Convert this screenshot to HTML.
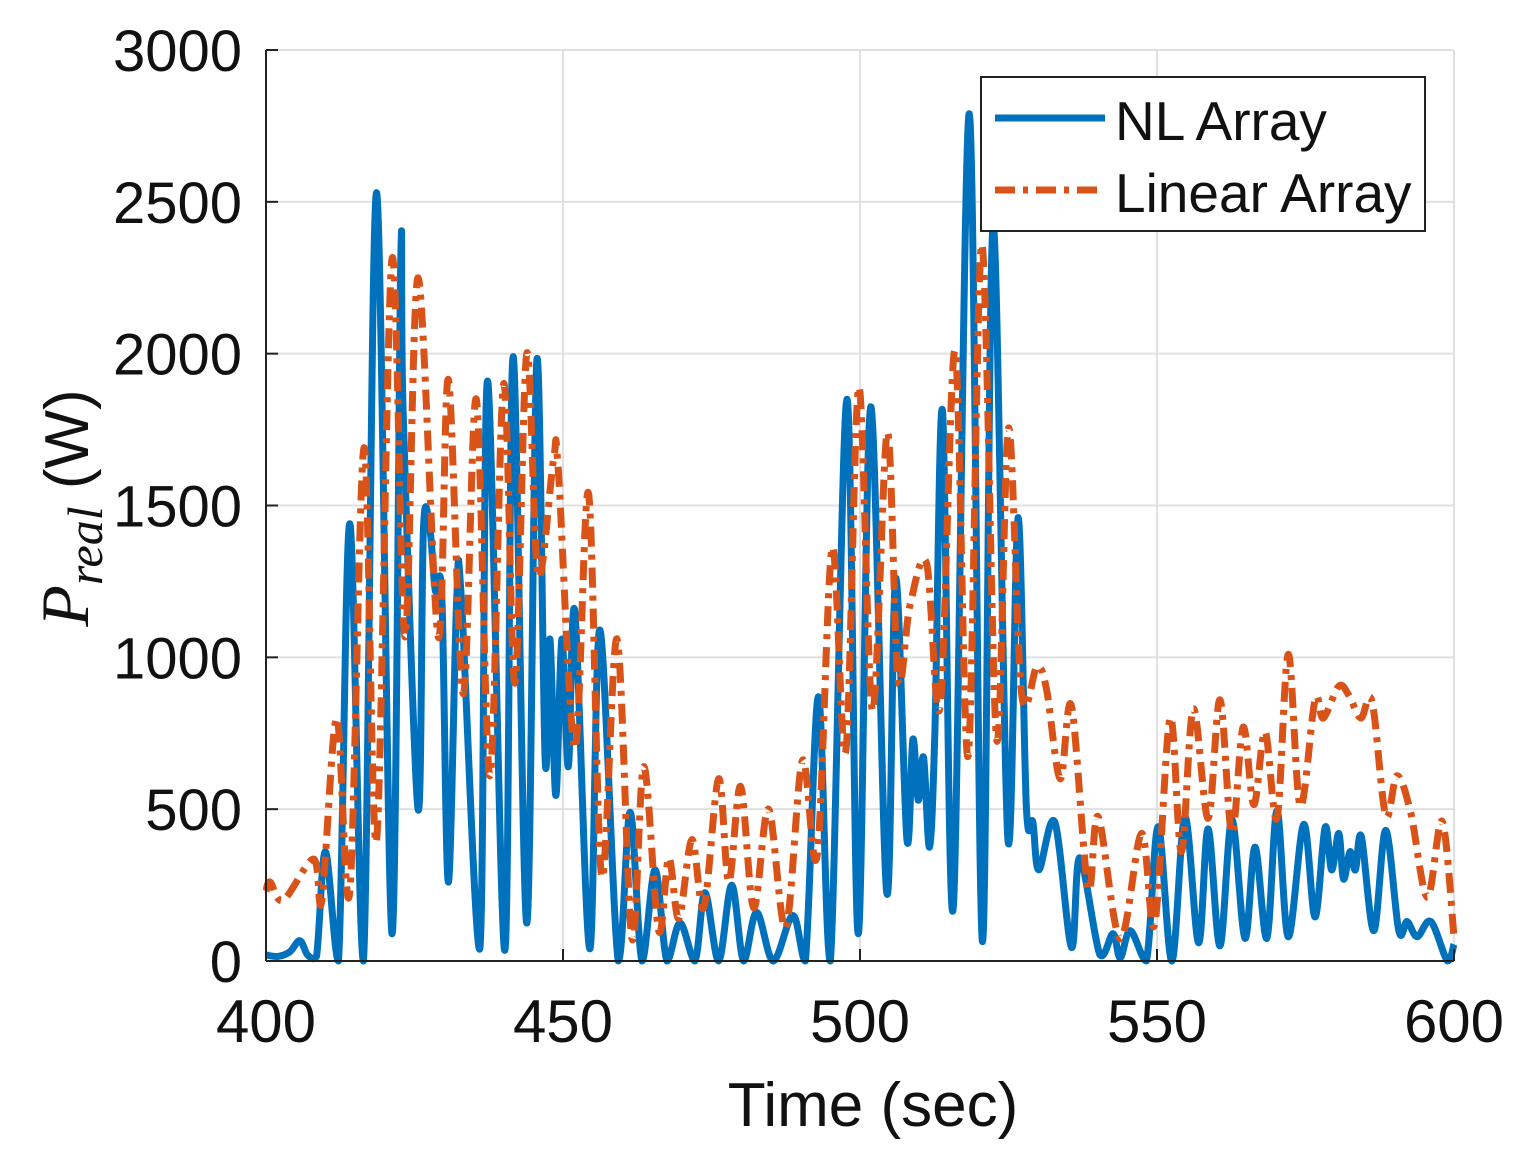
<!DOCTYPE html>
<html><head><meta charset="utf-8"><style>
body{margin:0;background:#fff;}
svg{display:block;font-family:"Liberation Sans",sans-serif;}
</style></head><body>
<svg id="chart" width="1526" height="1162" viewBox="0 0 1526 1162" xmlns="http://www.w3.org/2000/svg">
<g id="grid"></g>
<g id="series"></g>
<g id="axes"></g>
<text x="873" y="1126" font-size="62" text-anchor="middle" fill="#111">Time (sec)</text>
<g transform="translate(88,508) rotate(-90)">
<text text-anchor="middle" font-size="62" fill="#111"><tspan font-family="Liberation Serif,serif" font-style="italic" font-size="68">P</tspan><tspan font-family="Liberation Serif,serif" font-style="italic" font-size="50" dy="14">real</tspan><tspan dy="-14">  (W)</tspan></text>
</g>
<g>
<rect x="981" y="77" width="444" height="154" fill="#fff" stroke="#222" stroke-width="2"/>
<line x1="995" y1="118" x2="1105" y2="118" stroke="#0072BD" stroke-width="7"/>
<text x="1115" y="140" font-size="55" fill="#111">NL Array</text>
<line x1="995" y1="190" x2="1105" y2="190" stroke="#D95319" stroke-width="7" stroke-dasharray="20 8 5 8"/>
<text x="1115" y="212" font-size="55" fill="#111">Linear Array</text>
</g>
</svg>
<script>
const xTicks=[400,450,500,550,600];
const yTicks=[0,500,1000,1500,2000,2500,3000];
const nlT=[400,402,404,405.7,407,408.5,410,412.2,414.1,416.4,418.6,421.2,422.7,423.1,425.6,426.5,427.6,428.5,429.6,430.7,432.1,432.9,436,437.3,440.2,441.6,443.9,445.6,447,447.8,448.8,449.8,450.9,452,454.5,456.2,459.3,461.3,463.3,465.5,467.5,469.7,472.2,473.9,476.2,478.4,480.4,482.6,485.4,488.7,490.8,493,495,497.8,499.7,501.8,504.5,506,507.9,508.9,509.8,510.7,511.7,512.6,513.9,515.7,518.4,520.6,522.4,524.9,526.6,528,529.1,530.1,532.8,535.6,537,540.4,542.6,543.8,545.5,548.2,550.2,552.5,554.7,557,558.6,560.6,562.6,564.8,566.5,568.5,570.2,572.1,574.7,576.6,578.3,579.4,580.6,581.4,582.5,583.4,584.4,586.5,588.5,590.7,592.1,593.8,596.1,598.9,600];
const nlV=[20,15,30,67,20,15,360,0,1440,0,2530,90,2320,1800,500,1420,1420,1220,1200,260,1190,1190,40,1910,35,1990,125,1980,660,1060,545,1060,640,1150,40,1090,0,490,0,300,0,125,0,225,0,250,0,160,0,150,0,870,0,1850,90,1825,225,1260,400,730,530,670,375,750,1810,175,2790,65,2420,400,1460,510,457,300,457,45,340,20,90,10,100,0,442,0,475,60,435,50,465,75,375,75,495,80,450,145,440,300,420,270,360,300,410,100,430,100,130,80,130,0,55];
const linT=[400,400.7,402.9,408,409.4,411.9,414.1,416.5,418.6,421.2,423.4,425.6,429,430.7,433.2,435.4,437.7,440,441.9,443.9,445.8,448.4,449.2,452,454.3,456.5,459.1,461.6,463.6,466.1,467.8,469.5,471.7,473.7,476.2,477.9,479.9,482.1,484.6,487.5,490.3,492.8,495.3,497.6,499.8,502.1,504.6,506.4,508.4,511.2,513.5,516,518.2,520.5,523,525,527.2,529.8,531.4,533.7,535.6,538.4,540.1,543.8,547.4,549.6,552.2,554.1,556.1,558.6,560.6,562.6,564.5,566.3,568.2,570.2,572.1,574.1,576.6,578,580.6,582.3,584.3,586.2,588.5,590.4,592.7,595.5,598,600];
const linV=[230,260,200,336,200,800,227,1690,395,2310,1067,2250,1067,1915,880,1850,610,1900,915,2000,1270,1650,1620,700,1540,280,1060,75,640,100,340,140,400,175,600,260,575,175,500,110,660,350,1360,690,1890,825,1740,930,1170,1310,840,2010,675,2360,730,1755,880,970,895,600,840,240,475,73,420,120,800,360,830,470,860,420,770,515,755,470,1010,510,860,800,905,875,800,855,480,610,490,210,460,80];

const L=266,R=1454,T=50,B=961;
const sx=t=>L+(t-400)/200*(R-L);
const sy=v=>B-v/3000*(B-T);
const NS='http://www.w3.org/2000/svg';
function mk(tag,attrs,parent){const e=document.createElementNS(NS,tag);for(const k in attrs)e.setAttribute(k,attrs[k]);parent.appendChild(e);return e;}
const grid=document.getElementById('grid'),axes=document.getElementById('axes'),series=document.getElementById('series');
xTicks.forEach(t=>{
  if(t>400){const g=mk('line',{x1:sx(t),x2:sx(t),y1:T,y2:B,stroke:'#e0e0e0','stroke-width':2},grid);
  
  }
  const tk=mk('line',{x1:sx(t),x2:sx(t),y1:B,y2:B-12,stroke:'#222','stroke-width':2},axes);
  
  
  const lb=mk('text',{x:sx(t),y:1042,'font-size':60,'text-anchor':'middle',fill:'#111'},axes);lb.textContent=t;
  
  
});
yTicks.forEach(v=>{
  if(v>0){const g=mk('line',{x1:L,x2:R,y1:sy(v),y2:sy(v),stroke:'#e0e0e0','stroke-width':2},grid);
  
  }
  const tk=mk('line',{x1:L,x2:L+12,y1:sy(v),y2:sy(v),stroke:'#222','stroke-width':2},axes);
  
  
  const lb=mk('text',{x:242,y:sy(v)+21,'font-size':58,'text-anchor':'end',fill:'#111'},axes);lb.textContent=v;
  
  
});
const ax1=mk('line',{x1:L,x2:L,y1:T,y2:B,stroke:'#222','stroke-width':2},axes);


const ax2=mk('line',{x1:L,x2:R,y1:B,y2:B,stroke:'#222','stroke-width':2},axes);


function pathD(ts,vs){
  const p=ts.map((t,i)=>[sx(t),sy(Math.max(0,vs[i]))]);
  let d='M'+p[0][0]+','+p[0][1];
  for(let i=0;i<p.length-1;i++){
    const p0=p[i-1]||p[i],p1=p[i],p2=p[i+1],p3=p[i+2]||p2;
    const c1x=p1[0]+(p2[0]-p0[0])/6,c2x=p2[0]-(p3[0]-p1[0])/6;
    let c1y=p1[1]+(p2[1]-p0[1])/6,c2y=p2[1]-(p3[1]-p1[1])/6;
    c1y=Math.min(c1y,B);c2y=Math.min(c2y,B);
    d+=' C'+c1x+','+c1y+' '+c2x+','+c2y+' '+p2[0]+','+p2[1];
  }
  return d;
}
const nl=mk('path',{d:pathD(nlT,nlV),fill:'none',stroke:'#0072BD','stroke-width':7,'stroke-linejoin':'round'},series);


const lin=mk('path',{d:pathD(linT,linV),fill:'none',stroke:'#D95319','stroke-width':7,'stroke-dasharray':'20 8 5 8','stroke-linejoin':'round'},series);


</script>
</body></html>
